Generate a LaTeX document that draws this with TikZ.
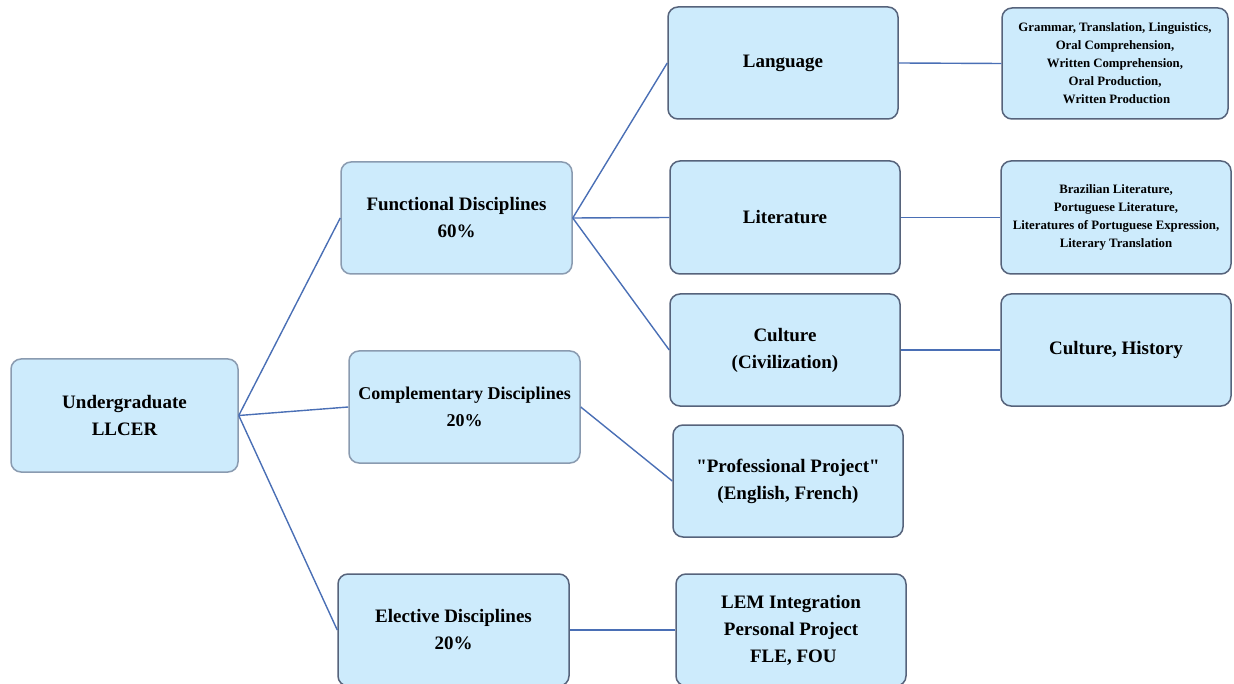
\documentclass[tikz,border=0pt]{standalone}
\usepackage{fontspec}
\setmainfont{Liberation Serif}
\newfontfamily\qfont{Liberation Serif}
\newcommand{\sq}{{\qfont\bfseries "}}
\definecolor{boxfill}{HTML}{CDEBFC}
\definecolor{darkedge}{HTML}{56637B}
\definecolor{lightedge}{HTML}{8A9BB0}
\definecolor{linkcol}{HTML}{4A6FB5}
\tikzset{
  box/.style={draw=darkedge, line width=1.5pt, fill=boxfill, rounded corners=10pt,
    inner sep=0pt, align=center, font=\fontsize{19}{27}\selectfont\bfseries},
  lbox/.style={box, draw=lightedge},
  small/.style={font=\fontsize{12.8}{18}\selectfont\bfseries},
  link/.style={draw=linkcol, line width=1.4pt},
}
\begin{document}
\begin{tikzpicture}[x=1pt,y=-1pt]
\useasboundingbox (0,0) rectangle (1234,684);
\node[lbox, minimum width=227pt, minimum height=113pt] (ug) at (124.5,415.5) {Undergraduate\\LLCER};
\node[lbox, minimum width=231pt, minimum height=112pt] (fd) at (456.5,218) {Functional Disciplines\\60\%};
\node[lbox, minimum width=231pt, minimum height=112pt, font=\fontsize{18}{27}\selectfont\bfseries] (cd) at (464.5,407) {Complementary Disciplines\\20\%};
\node[box, minimum width=231pt, minimum height=112pt] (ed) at (453.5,630) {Elective Disciplines\\20\%};
\node[box, minimum width=230pt, minimum height=112pt] (lang) at (783,63) {\raisebox{3pt}{Language}};
\node[box, minimum width=230pt, minimum height=113pt] (lit) at (785,217.5) {Literature};
\node[box, minimum width=230pt, minimum height=112pt] (cul) at (785,350) {Culture\\(Civilization)};
\node[box, minimum width=230pt, minimum height=112pt] (pp) at (788,481) {\sq Professional Project\sq\\(English, French)};
\node[box, minimum width=230pt, minimum height=112pt] (lem) at (791,630) {LEM Integration\\Personal Project\\\ FLE, FOU};
\node[box, small, minimum width=226pt, minimum height=111pt] (gr) at (1115,63.5) {Grammar, Translation, Linguistics,\\Oral Comprehension,\\Written Comprehension,\\Oral Production,\\\ Written Production};
\node[box, small, minimum width=230pt, minimum height=113pt] (br) at (1116,217.5) {Brazilian Literature,\\Portuguese Literature,\\Literatures of Portuguese Expression,\\Literary Translation};
\node[box, minimum width=230pt, minimum height=112pt] (ch) at (1116,350) {Culture, History};
\path[link] (ug.east) -- (fd.west);
\path[link] (ug.east) -- (cd.west);
\path[link] (ug.east) -- (ed.west);
\path[link] (fd.east) -- (lang.west);
\path[link] (fd.east) -- (lit.west);
\path[link] (fd.east) -- (cul.west);
\path[link] (cd.east) -- (pp.west);
\path[link] (ed.east) -- (lem.west);
\path[link] (lang.east) -- (gr.west);
\path[link] (lit.east) -- (br.west);
\path[link] (cul.east) -- (ch.west);
\end{tikzpicture}
\end{document}
